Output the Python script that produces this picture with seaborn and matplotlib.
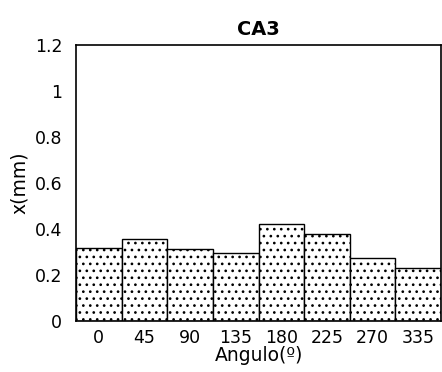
import matplotlib
matplotlib.use("Agg")
import matplotlib.pyplot as plt
import seaborn as sns
import pandas as pd

angles = ["0", "45", "90", "135", "180", "225", "270", "335"]
x_mm = [0.317, 0.358, 0.313, 0.294, 0.420, 0.378, 0.273, 0.230]
y_ticks = [0, 0.2, 0.4, 0.6, 0.8, 1.0, 1.2]
y_tick_labels = ["0", "0.2", "0.4", "0.6", "0.8", "1", "1.2"]

# render at a higher dpi so the dot hatch is a little sparser;
# point sizes are scaled down so text keeps the same pixel size
DPI = 125
k = 100 / DPI

sns.set_theme(style="white")
plt.rcParams["font.family"] = ["DejaVu Sans"]
plt.rcParams["hatch.linewidth"] = 0.75
plt.rcParams["text.color"] = "black"
plt.rcParams["xtick.color"] = "black"
plt.rcParams["ytick.color"] = "black"
plt.rcParams["axes.labelcolor"] = "black"

df = pd.DataFrame({"angulo": angles, "x": x_mm})

fig = plt.figure(figsize=(442 / DPI, 372 / DPI), dpi=DPI)
ax = fig.add_axes([0.172, 0.137, 0.826, 0.742])

sns.barplot(data=df, x="angulo", y="x", color="white", edgecolor="black",
            linewidth=1.0 * k, width=1.0, saturation=1, ax=ax)
for p in ax.patches:
    p.set_hatch("...")
    p.set_facecolor("white")

ax.set_xlim(-0.5, len(angles) - 0.5)
ax.set_ylim(0, 1.2)
ax.set_yticks(y_ticks)
ax.set_yticklabels(y_tick_labels)
ax.tick_params(axis="y", length=0, labelsize=12.5 * k, pad=10 * k)
ax.tick_params(axis="x", length=0, labelsize=12.5 * k, pad=6 * k)
for s in ax.spines.values():
    s.set_color("black")
    s.set_linewidth(1.2 * k)

ax.set_xlabel("Angulo(º)", fontsize=13.5 * k, labelpad=-1 * k)
ax.set_ylabel("x(mm)", fontsize=13.5 * k, labelpad=4 * k)
ax.set_title("CA3", fontsize=14 * k, fontweight="bold", pad=7 * k)

fig.savefig("out.png", dpi=DPI)
